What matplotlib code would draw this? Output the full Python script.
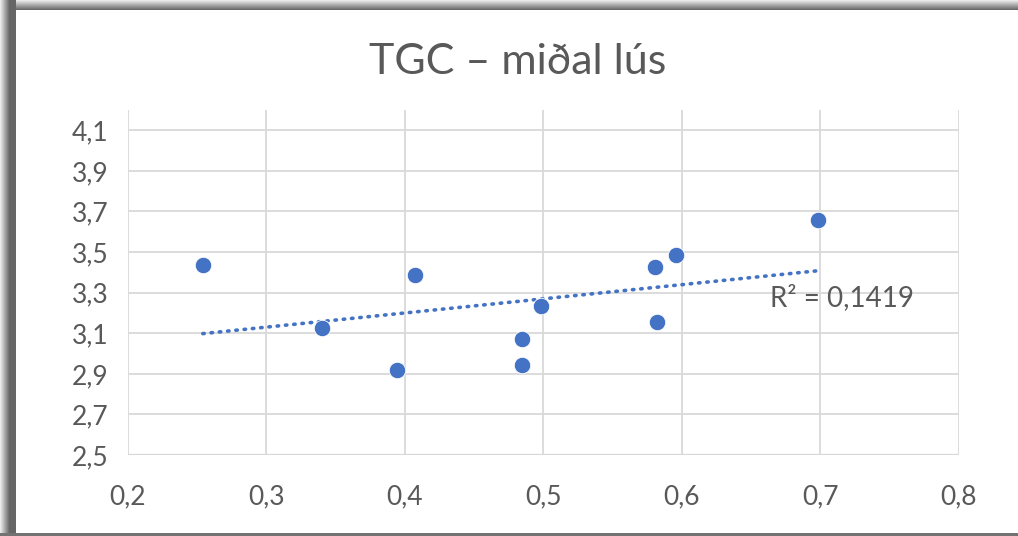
import numpy as np
import matplotlib
matplotlib.use("Agg")
import matplotlib.pyplot as plt

# Data
x_vals = [0.254, 0.340, 0.394, 0.407, 0.4845, 0.4845, 0.498, 0.5805, 0.582, 0.596, 0.698]
y_vals = [3.436, 3.126, 2.919, 3.387, 3.071, 2.943, 3.234, 3.426, 3.155, 3.485, 3.658]
title = "TGC – miðal lús"
r2_label = "R² = 0,1419"
x_ticks = [0.2, 0.3, 0.4, 0.5, 0.6, 0.7, 0.8]
y_ticks = [2.5, 2.7, 2.9, 3.1, 3.3, 3.5, 3.7, 3.9, 4.1]

plt.rcParams['font.family'] = ['Lato', 'DejaVu Sans']
W, H = 1018, 536
fig = plt.figure(figsize=(W / 100, H / 100), dpi=100)

# Frame with shadow (background)
bg = fig.add_axes([0, 0, 1, 1], zorder=-10)
img = np.ones((H, W, 3))
for i in range(16):
    v = 0.92 - 0.52 * min(i, 9) / 9
    img[:, i, :] = v
for j in range(10):
    v = 0.92 - 0.5 * j / 9
    img[j, 16:, :] = np.minimum(img[j, 16:, :], v)
img[533:, :, :] = 0.45
bg.imshow(img, aspect='auto', extent=[0, 1, 0, 1], interpolation='nearest')
bg.axis('off')

ax = fig.add_axes([128 / W, 1 - 455 / H, (959 - 128) / W, (455 - 110) / H])
ax.set_facecolor('none')
ax.set_xlim(0.2, 0.8)
ax.set_ylim(2.5, 4.2)
ax.set_xticks(x_ticks)
ax.set_yticks(y_ticks)
ax.set_xticklabels([f"{t:.1f}".replace('.', ',') for t in x_ticks])
ax.set_yticklabels([f"{t:.1f}".replace('.', ',') for t in y_ticks])
ax.grid(True, color='#D9D9D9', linewidth=1.3, zorder=0)
for s in ax.spines.values():
    s.set_visible(False)
ax.axhline(2.5, color='#D0D0D0', linewidth=1.6, zorder=1)
ax.tick_params(length=0, labelsize=19, labelcolor='#595959')
ax.tick_params(axis='x', pad=21)
ax.tick_params(axis='y', pad=14)

xa = np.array(x_vals)
ya = np.array(y_vals)
m, b = np.polyfit(xa, ya, 1)
xs = np.array([xa.min(), xa.max()])
ax.plot(xs, m * xs + b, linestyle=(0, (0.4, 1.9)), dash_capstyle='round',
        color='#4472C4', linewidth=2.6, zorder=2)
ax.scatter(xa, ya, s=140, color='#4472C4', edgecolors='white', linewidths=0.6, zorder=3)

ax.text(0.6635, 3.278, r2_label, fontsize=20, color='#595959', va='center', ha='left')

fig.text(518 / W, 1 - 62 / H, title, fontsize=31, color='#595959', ha='center', va='center',
         family=['Lato', 'DejaVu Sans'])

fig.savefig('out.png', dpi=100)
